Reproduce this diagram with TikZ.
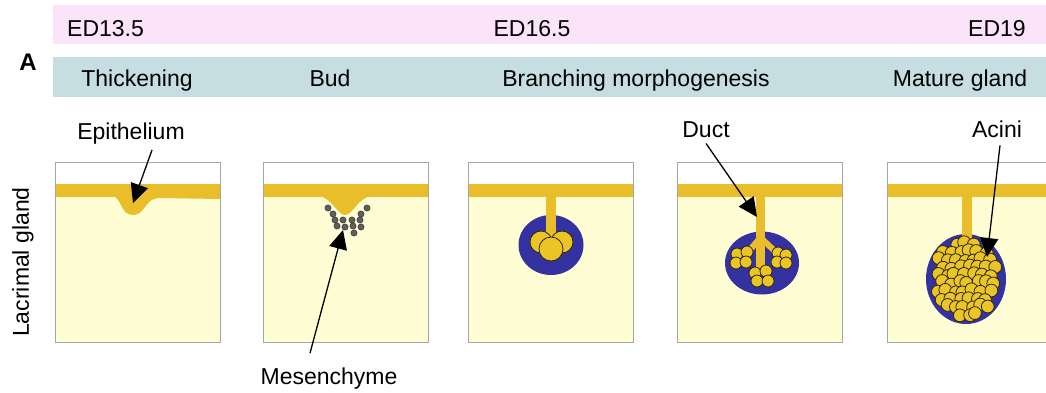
\documentclass[tikz,border=0pt]{standalone}
\usepackage{fontspec}
\setmainfont{Liberation Sans}
\usepackage{tikz}
\usetikzlibrary{arrows.meta}

\definecolor{stagepink}{RGB}{251,227,249}
\definecolor{phasegrey}{RGB}{198,221,226}
\definecolor{epiyellow}{RGB}{233,190,42}
\definecolor{tissue}{RGB}{255,253,212}
\definecolor{mesblue}{RGB}{52,50,160}
\definecolor{cellgrey}{RGB}{95,95,95}

\tikzset{
  lbl/.style={inner sep=0pt, font=\fontsize{23}{26}\selectfont},
  pointer/.style={line width=1.3pt, -{Triangle[length=19pt,width=18pt]}},
  lobe/.style={fill=epiyellow!90!yellow, draw=black!80!epiyellow, line width=0.8pt},
  mescell/.style={fill=cellgrey, draw=black!75, line width=0.6pt},
}
% one tissue panel, left edge at #1
\def\glandbox(#1){
  \fill[white] (#1,162) rectangle ++(165,22);
  \fill[tissue] (#1,184) rectangle ++(165,158);
  \fill[epiyellow] (#1,184) rectangle ++(165,13);
}
\def\boxframe(#1){\draw[black!35, line width=1pt] (#1,162) rectangle ++(165,180);}

\begin{document}
\begin{tikzpicture}[x=1pt,y=-1pt]
  %%%%% START %%%%%
  \useasboundingbox (0,0) rectangle (1046,392);

  % stage and phase bars
  \fill[stagepink] (53,5) rectangle (1046,44);
  \fill[phasegrey] (53,57) rectangle (1046,97);
  \node[lbl, anchor=base west] (ed135) at (67,36) {ED13.5};
  \node[lbl, anchor=base] (ed165) at (532,36) {ED16.5};
  \node[lbl, anchor=base] (ed19) at (997,36) {ED19};
  \node[lbl, anchor=base, font=\fontsize{24}{26}\selectfont\bfseries] (panel) at (28,70) {A};
  \node[lbl, anchor=base] (thick) at (137,86) {Thickening};
  \node[lbl, anchor=base] (bud) at (330,86) {Bud};
  \node[lbl, anchor=base] (branch) at (636,86) {Branching morphogenesis};
  \node[lbl, anchor=base] (mature) at (960,86) {Mature gland};
  \node[lbl, rotate=90] (gland) at (23,262) {Lacrimal gland};

  \glandbox(55)
  \glandbox(263)
  \glandbox(468)
  \glandbox(677)
  \glandbox(887)

  % thickening
  \fill[epiyellow] (112,196) .. controls (122,197) and (120,215) .. (133,215)
    .. controls (146,215) and (144,198) .. (160,198) -- (220,199) -- (220,196) -- cycle;

  % bud with condensing mesenchyme
  \fill[epiyellow] (372,196) .. controls (358,197) and (353,215) .. (345,215)
    .. controls (337,215) and (332,197) .. (318,196) -- cycle;
  \foreach \p in {(328,208),(333,214),(367,208),(361,214),(335,220),(343,220),
                  (352,220),(360,220),(337,226),(345,227),(353,226),(361,227),(354,233)}
    \draw[mescell] \p circle (3.1);

  % early branching
  \fill[mesblue] (551,245) ellipse (32.5 and 30);
  \fill[epiyellow] (546,197) rectangle (556,238);
  \draw[lobe] (541,242) circle (11);
  \draw[lobe] (562,242) circle (11);
  \draw[lobe] (551,249) circle (12);

  % branched duct
  \fill[mesblue] (762,263) ellipse (37 and 31.5);
  \fill[epiyellow] (756,197) rectangle (765,276);
  \draw[epiyellow, line width=6pt] (760,238) -- (744,257);
  \draw[epiyellow, line width=6pt] (761,238) -- (781,257);
  \foreach \p in {(737,254),(747,252),(736,263),(746,262),
                  (778,253),(786,255),(777,262),(786,263),
                  (755,273),(766,271),(757,281),(768,281)}
    \draw[lobe] \p circle (6);

  % mature gland
  \fill[mesblue] (966,279) ellipse (40 and 45);
  \fill[epiyellow] (962,197) rectangle (972,252);
  \pgfmathsetseed{11}
  \foreach \j in {0,...,11}{
    \foreach \i in {0,...,9}{
      \pgfmathsetmacro{\ax}{966+(\i-4.5)*8.6+mod(\j,2)*4.3-2.1+2*rand}
      \pgfmathsetmacro{\ay}{279+(\j-5.5)*7.8+2*rand}
      \pgfmathtruncatemacro{\inside}{((\ax-966)/33)^2+((\ay-279)/38.5)^2<1}
      \ifnum\inside=1 \draw[lobe] (\ax,\ay) circle (6.4); \fi
    }
  }

  \boxframe(55)
  \boxframe(263)
  \boxframe(468)
  \boxframe(677)
  \boxframe(887)

  % callouts
  \node[lbl, anchor=base] (epi) at (131,139) {Epithelium};
  \node[lbl, anchor=base] (mes) at (329,384) {Mesenchyme};
  \node[lbl, anchor=base] (duct) at (706,137) {Duct};
  \node[lbl, anchor=base] (acini) at (997,137) {Acini};
  \coordinate (epitip) at (133,203);
  \coordinate (mestip) at (343,230);
  \coordinate (ducttip) at (757,217);
  \coordinate (acinitip) at (987,257);
  \draw[pointer] ([xshift=21pt,yshift=-6pt]epi.south) -- (epitip);
  \draw[pointer] ([xshift=-19pt,yshift=14pt]mes.north) -- (mestip);
  \draw[pointer] ([yshift=-6pt]duct.south) -- (ducttip);
  \draw[pointer] ([xshift=3pt,yshift=-8pt]acini.south) -- (acinitip);
  %%%%% END %%%%%
\end{tikzpicture}
\end{document}
